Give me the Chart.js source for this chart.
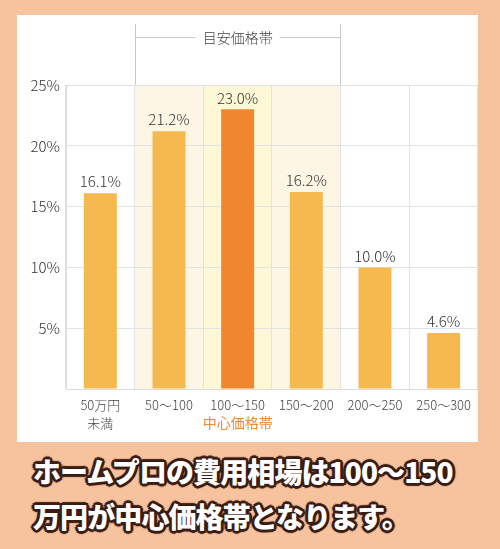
<!DOCTYPE html>
<html lang="ja">
<head>
<meta charset="utf-8">
<script src="https://cdn.jsdelivr.net/npm/chart.js@4"></script>
<style>
	html, body {
		margin: 0;
		padding: 0;
	}
	body {
		width: 500px;
		height: 549px;
		background: #f6c39e;
		position: relative;
		overflow: hidden;
		font-family: "Noto Sans CJK JP", sans-serif;
	}
	#card {
		position: absolute;
		left: 17px;
		top: 15px;
		width: 461px;
		height: 427px;
		background: #fff;
	}
	#caption {
		position: absolute;
		left: 33px;
		top: 449px;
		margin: 0;
		font-size: 28px;
		font-weight: 900;
		line-height: 45px;
		letter-spacing: -0.9px;
		color: #fff;
		text-shadow:
			2px 0 0 #3a1c12, -2px 0 0 #3a1c12, 0 2px 0 #3a1c12, 0 -2px 0 #3a1c12,
			2px 2px 0 #3a1c12, -2px -2px 0 #3a1c12, 2px -2px 0 #3a1c12, -2px 2px 0 #3a1c12,
			3px 0 1px #3a1c12, -3px 0 1px #3a1c12, 0 3px 1px #3a1c12, 0 -3px 1px #3a1c12;
	}
</style>
</head>
<body>
<div id="card"><canvas id="priceChart" width="461" height="427"></canvas></div>
<p id="caption">ホームプロの費用相場は100〜150<br>万円が中心価格帯となります。</p>

<script>
// 価格帯ごとの割合 (%)
const categories = [["50万円", "未満"], "50〜100", "100〜150", "150〜200", "200〜250", "250〜300"];
const shares = [16.1, 21.2, 23.0, 16.2, 10.0, 4.6];
const yTicks = [0, 5, 10, 15, 20, 25];
const guideIndexes = [1, 2, 3]; // 目安価格帯
const centerIndex = 2; // 中心価格帯
const guideLabel = "目安価格帯";
const centerLabel = "中心価格帯";

const FONT = '"Noto Sans CJK JP", sans-serif';

// 背景の帯 (グリッドより下に描く)
const bandPlugin = {
	id: "bands",
	beforeDraw(chart) {
		const { ctx, chartArea, scales } = chart;
		const x = scales.x;
		const w = x.width / categories.length;
		ctx.save();
		guideIndexes.forEach((i) => {
			const cx = x.getPixelForValue(i);
			ctx.fillStyle = i === centerIndex ? "#fff8d6" : "#fdf6e4";
			ctx.fillRect(cx - w / 2, chartArea.top, w, chartArea.bottom - chartArea.top);
		});
		ctx.restore();
	},
	afterDraw(chart) {
		const { ctx, chartArea, scales } = chart;
		const x = scales.x;
		const w = x.width / categories.length;
		const left = x.getPixelForValue(guideIndexes[0]) - w / 2;
		const right = x.getPixelForValue(guideIndexes[guideIndexes.length - 1]) + w / 2;
		const mid = (left + right) / 2;
		const lineY = 22.5;

		ctx.save();
		ctx.strokeStyle = "#c8c8c8";
		ctx.lineWidth = 1;
		ctx.beginPath();
		ctx.moveTo(Math.round(left) + 0.5, 9);
		ctx.lineTo(Math.round(left) + 0.5, chartArea.top);
		ctx.moveTo(Math.round(right) - 0.5, 9);
		ctx.lineTo(Math.round(right) - 0.5, chartArea.top);
		ctx.moveTo(left, lineY);
		ctx.lineTo(mid - 42, lineY);
		ctx.moveTo(mid + 42, lineY);
		ctx.lineTo(right, lineY);
		ctx.stroke();

		ctx.font = "300 14px " + FONT;
		ctx.fillStyle = "#444";
		ctx.textAlign = "center";
		ctx.textBaseline = "middle";
		ctx.fillText(guideLabel, mid, lineY);

		ctx.font = "14px " + FONT;
		ctx.fillStyle = "#ee8a35";
		ctx.fillText(centerLabel, x.getPixelForValue(centerIndex), 408);
		ctx.restore();
	},
	afterDatasetsDraw(chart) {
		const { ctx } = chart;
		const meta = chart.getDatasetMeta(0);
		ctx.save();
		ctx.font = "300 15px " + FONT;
		ctx.fillStyle = "#333";
		ctx.textAlign = "center";
		ctx.textBaseline = "bottom";
		meta.data.forEach((bar, i) => {
			ctx.fillText(shares[i].toFixed(1) + "%", bar.x, bar.y - 4);
		});
		ctx.restore();
	},
};

const barColors = shares.map((_, i) => (i === centerIndex ? "#f0872e" : "#f6b94f"));

new Chart(document.getElementById("priceChart"), {
	type: "bar",
	data: {
		labels: categories,
		datasets: [
			{
				data: shares,
				backgroundColor: barColors,
				borderWidth: 0,
				categoryPercentage: 1,
				barPercentage: 0.48,
			},
		],
	},
	options: {
		responsive: false,
		animation: false,
		events: [],
		layout: { padding: { top: 70, left: 0, right: 0, bottom: 0 } },
		plugins: {
			legend: { display: false },
			tooltip: { enabled: false },
		},
		scales: {
			x: {
				grid: { color: "#e2e2e2", drawTicks: false, offset: true },
				border: { color: "#dcdcdc" },
				ticks: {
					color: "#444",
					padding: 7,
					maxRotation: 0,
					autoSkip: false,
					font: { family: FONT, size: 13, weight: 300, lineHeight: 1.4 },
				},
				afterFit(scale) {
					scale.height = 53;
				},
			},
			y: {
				min: 0,
				max: 25,
				afterBuildTicks(scale) {
					scale.ticks = yTicks.map((v) => ({ value: v }));
				},
				grid: { color: "#e2e2e2", drawTicks: false },
				border: { color: "#dcdcdc" },
				ticks: {
					color: "#333",
					padding: 6,
					font: { family: FONT, size: 15, weight: 300 },
					callback: (v) => (v === 0 ? "" : v + "%"),
				},
				afterFit(scale) {
					scale.width = 49;
				},
			},
		},
	},
	plugins: [bandPlugin],
});
</script>
</body>
</html>
